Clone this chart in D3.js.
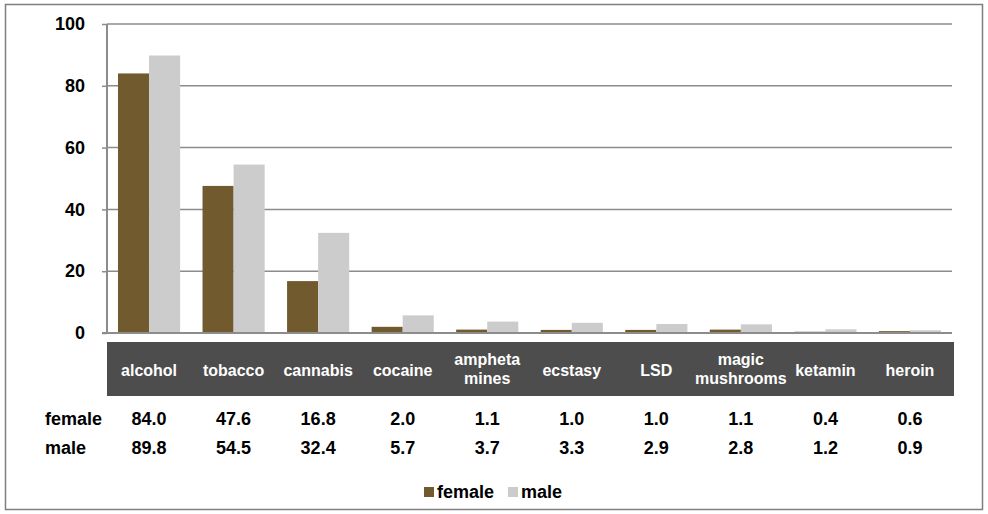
<!DOCTYPE html>
<html><head><meta charset="utf-8">
<script src="https://cdn.jsdelivr.net/npm/d3@7"></script>
<style>body{margin:0;background:#fff;} svg{display:block;font-family:Arial,"Liberation Sans",sans-serif;}</style>
</head><body><svg id="c" width="988" height="514"></svg>
<script>
const categories = [["alcohol"],["tobacco"],["cannabis"],["cocaine"],["ampheta","mines"],["ecstasy"],["LSD"],["magic","mushrooms"],["ketamin"],["heroin"]];
const female = [84.0,47.6,16.8,2.0,1.1,1.0,1.0,1.1,0.4,0.6];
const male = [89.8,54.5,32.4,5.7,3.7,3.3,2.9,2.8,1.2,0.9];
const seriesNames = ["female","male"];
const yTicks = [0,20,40,60,80,100];
const colors = {female:"#715a2d", male:"#cccccc"};

(function(){
const svg = d3.select("#c");
svg.append("rect").attr("x",5.5).attr("y",4.5).attr("width",977).attr("height",505).attr("fill","#fff").attr("stroke","#7f7f7f").attr("stroke-width",1.5);

const pLeft=107, pRight=952, pTop=24, pBottom=333;
const idx = d3.range(categories.length);
const x = d3.scaleBand().domain(idx).range([pLeft,pRight]).paddingInner(0.265).paddingOuter(0.13);
const x1 = d3.scaleBand().domain(seriesNames).range([0,x.bandwidth()]);
const y = d3.scaleLinear().domain([0,100]).range([pBottom,pTop]);

svg.append("g").selectAll("line").data(yTicks.filter(d=>d>0)).join("line")
  .attr("x1",pLeft).attr("x2",pRight).attr("y1",d=>y(d)).attr("y2",d=>y(d))
  .attr("stroke","#8c8c8c").attr("stroke-width",1.5);

const data = {female, male};
seriesNames.forEach(s=>{
  svg.append("g").selectAll("rect").data(idx).join("rect")
    .attr("x",i=>x(i)+x1(s)).attr("width",x1.bandwidth())
    .attr("y",i=>y(data[s][i])).attr("height",i=>pBottom-y(data[s][i]))
    .attr("fill",colors[s]);
});

const yAxis = d3.axisLeft(y).tickValues(yTicks).tickSize(5).tickPadding(17).tickFormat(d3.format("d"));
const ga = svg.append("g").attr("transform",`translate(${pLeft},0)`).call(yAxis);
ga.select(".domain").attr("stroke","#8c8c8c").attr("stroke-width",2).attr("d",`M0,${pTop}V${pBottom}`);
ga.selectAll(".tick line").attr("stroke","#8c8c8c").attr("stroke-width",1.5);
ga.selectAll(".tick text").attr("font-size",18).attr("font-weight","bold").attr("fill","#000").attr("font-family","Arial,'Liberation Sans',sans-serif");
svg.append("line").attr("x1",pLeft-5).attr("x2",pRight).attr("y1",pBottom).attr("y2",pBottom).attr("stroke","#8c8c8c").attr("stroke-width",2);

svg.append("rect").attr("x",pLeft).attr("y",342).attr("width",954-pLeft).attr("height",54).attr("fill","#4d4d4d");
const cx = i => x(i)+x.bandwidth()/2;
const lab = svg.append("g").selectAll("text").data(idx).join("text")
  .attr("x",cx).attr("text-anchor","middle").attr("fill","#fff").attr("font-size",16).attr("font-weight","bold");
lab.each(function(i){
  const lines = categories[i];
  const t = d3.select(this);
  const y0 = lines.length===1 ? 376 : 365;
  lines.forEach((l,k)=>t.append("tspan").attr("x",cx(i)).attr("y",y0+k*19).text(l));
});

const rows = [["female",female,425],["male",male,454]];
rows.forEach(([name,vals,yy])=>{
  svg.append("text").attr("x",45).attr("y",yy).attr("font-size",18).attr("font-weight","bold").text(name);
  svg.append("g").selectAll("text").data(idx).join("text")
    .attr("x",cx).attr("y",yy).attr("text-anchor","middle").attr("font-size",18).attr("font-weight","bold")
    .text(i=>d3.format(".1f")(vals[i]));
});

const leg = [["female",424,437],["male",508,521]];
leg.forEach(([s,sx,tx])=>{
  svg.append("rect").attr("x",sx).attr("y",487).attr("width",10).attr("height",10).attr("fill",colors[s]);
  svg.append("text").attr("x",tx).attr("y",498).attr("font-size",18).attr("font-weight","bold").text(s);
});
})();
</script></body></html>
